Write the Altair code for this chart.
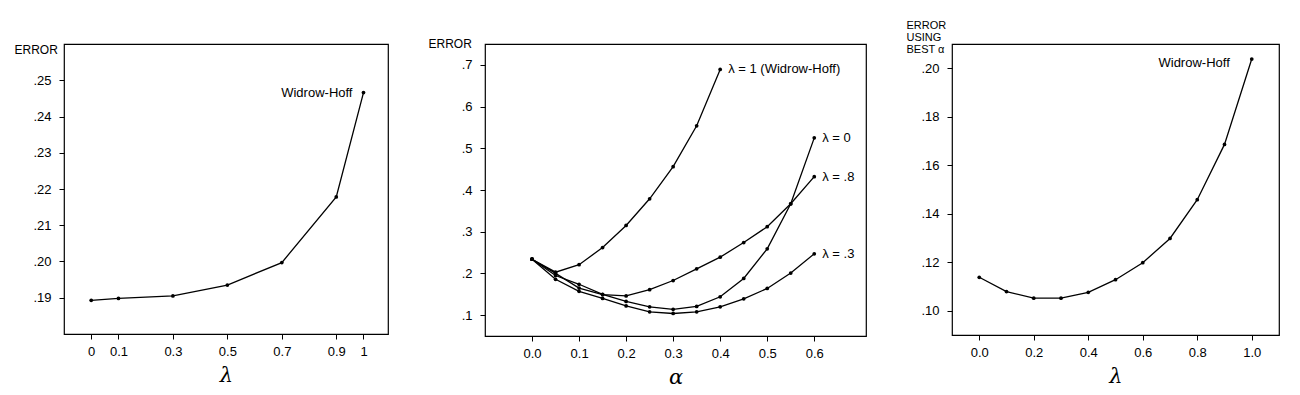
import altair as alt
import pandas as pd

# ---------------- Panel 1: error vs lambda ----------------
lam1 = [0.0, 0.1, 0.3, 0.5, 0.7, 0.9, 1.0]
err1 = [0.1893, 0.1898, 0.1905, 0.1935, 0.1997, 0.2178, 0.2466]
x1_ticks = [0.0, 0.1, 0.3, 0.5, 0.7, 0.9, 1.0]
y1_ticks = [0.19, 0.20, 0.21, 0.22, 0.23, 0.24, 0.25]

# ---------------- Panel 2: error vs alpha for several lambda ----------------
alpha_all = [0.0, 0.05, 0.10, 0.15, 0.20, 0.25, 0.30, 0.35, 0.40, 0.45, 0.50, 0.55, 0.60]
alpha_wh = [0.0, 0.05, 0.10, 0.15, 0.20, 0.25, 0.30, 0.35, 0.40]
err_lam0 = [0.234, 0.195, 0.174, 0.150, 0.133, 0.120, 0.114, 0.121, 0.144, 0.188, 0.259, 0.367, 0.525]
err_lam3 = [0.234, 0.186, 0.157, 0.140, 0.122, 0.108, 0.104, 0.108, 0.120, 0.139, 0.164, 0.201, 0.247]
err_lam8 = [0.234, 0.200, 0.165, 0.149, 0.146, 0.161, 0.183, 0.211, 0.239, 0.274, 0.312, 0.367, 0.432]
err_lam1 = [0.234, 0.203, 0.221, 0.262, 0.315, 0.379, 0.456, 0.554, 0.689]
series_labels = ["λ = 0", "λ = .3", "λ = .8", "λ = 1 (Widrow-Hoff)"]
x2_ticks = [0.0, 0.1, 0.2, 0.3, 0.4, 0.5, 0.6]
y2_ticks = [0.1, 0.2, 0.3, 0.4, 0.5, 0.6, 0.7]

# ---------------- Panel 3: error using best alpha vs lambda ----------------
lam3 = [0.0, 0.1, 0.2, 0.3, 0.4, 0.5, 0.6, 0.7, 0.8, 0.9, 1.0]
err3 = [0.1138, 0.1079, 0.1052, 0.1052, 0.1076, 0.1128, 0.1198, 0.1298, 0.1458, 0.1686, 0.2038]
x3_ticks = [0.0, 0.2, 0.4, 0.6, 0.8, 1.0]
y3_ticks = [0.10, 0.12, 0.14, 0.16, 0.18, 0.20]

SANS = "Liberation Sans"
SERIF = "DejaVu Serif"
LW = 1.3
PT = 14


def x_axis(values, title, label_expr=None, fmt=None):
    kw = dict(values=values, title=title, grid=False, domain=False,
              ticks=True, tickSize=5, tickColor="black", tickWidth=1,
              labelFont=SANS, labelFontSize=13, labelColor="black", labelPadding=6,
              labelFlush=False,
              titleFont=SERIF, titleFontSize=21, titleFontStyle="italic",
              titleFontWeight="normal", titleColor="black", titlePadding=6)
    if label_expr:
        kw["labelExpr"] = label_expr
    if fmt:
        kw["format"] = fmt
    return alt.Axis(**kw)


def y_axis(values, fmt, title, tx, ty, baseline, fsize=12):
    return alt.Axis(values=values, grid=False, domain=False,
                    labelExpr=f"substring(format(datum.value, '{fmt}'), 1)",
                    ticks=True, tickSize=5, tickColor="black", tickWidth=1,
                    labelFont=SANS, labelFontSize=13, labelColor="black", labelPadding=8,
                    labelFlush=False,
                    title=title, titleAngle=0, titleAlign="left", titleBaseline=baseline,
                    titleX=tx, titleY=ty, titleFont=SANS, titleFontSize=fsize,
                    titleFontWeight="normal", titleColor="black", titleLineHeight=12)


# Panel 1
df1 = pd.DataFrame({"lam": lam1, "err": err1})
x1 = alt.X("lam:Q", scale=alt.Scale(domain=[-0.1, 1.09], nice=False, zero=False),
           axis=x_axis(x1_ticks, "λ", label_expr="toString(datum.value)"))
y1 = alt.Y("err:Q", scale=alt.Scale(domain=[0.18, 0.26], nice=False, zero=False),
           axis=y_axis(y1_ticks, ".2f", "ERROR", -50, 0, "top"))
base1 = alt.Chart(df1).encode(x=x1, y=y1)
lab1 = pd.DataFrame({"lam": [lam1[-1]], "err": [err1[-1]], "txt": ["Widrow-Hoff"]})
p1 = alt.layer(
    base1.mark_line(color="black", strokeWidth=LW),
    base1.mark_circle(color="black", size=PT, opacity=1),
    alt.Chart(lab1).mark_text(align="right", baseline="middle", dx=-11, dy=0,
                              font=SANS, fontSize=13, color="black")
    .encode(x="lam:Q", y="err:Q", text="txt:N"),
).properties(width=324, height=290)

# Panel 2
rows = []
for lab, alphas, errs in [(series_labels[0], alpha_all, err_lam0),
                          (series_labels[1], alpha_all, err_lam3),
                          (series_labels[2], alpha_all, err_lam8),
                          (series_labels[3], alpha_wh, err_lam1)]:
    for a, e in zip(alphas, errs):
        rows.append({"alpha": a, "err": e, "series": lab})
df2 = pd.DataFrame(rows)
last2 = df2.groupby("series", as_index=False).last()
x2 = alt.X("alpha:Q", scale=alt.Scale(domain=[-0.1, 0.71], nice=False, zero=False),
           axis=x_axis(x2_ticks, "α", fmt=".1f"))
y2 = alt.Y("err:Q", scale=alt.Scale(domain=[0.05, 0.75], nice=False, zero=False),
           axis=y_axis(y2_ticks, ".1f", "ERROR", -57, -1, "middle"))
base2 = alt.Chart(df2).encode(x=x2, y=y2, detail="series:N")
p2 = alt.layer(
    base2.mark_line(color="black", strokeWidth=LW),
    base2.mark_circle(color="black", size=PT, opacity=1),
    alt.Chart(last2).mark_text(align="left", baseline="middle", dx=8,
                               font=SANS, fontSize=13, color="black")
    .encode(x="alpha:Q", y="err:Q", text="series:N"),
).properties(width=381, height=292)

# Panel 3
df3 = pd.DataFrame({"lam": lam3, "err": err3})
x3 = alt.X("lam:Q", scale=alt.Scale(domain=[-0.1, 1.1], nice=False, zero=False),
           axis=x_axis(x3_ticks, "λ", fmt=".1f"))
y3 = alt.Y("err:Q", scale=alt.Scale(domain=[0.09, 0.21], nice=False, zero=False),
           axis=y_axis(y3_ticks, ".2f", ["ERROR", "USING", "BEST α"], -46, -25, "top", fsize=11))
base3 = alt.Chart(df3).encode(x=x3, y=y3)
lab3 = pd.DataFrame({"lam": [lam3[-1]], "err": [err3[-1]], "txt": ["Widrow-Hoff"]})
p3 = alt.layer(
    base3.mark_line(color="black", strokeWidth=LW),
    base3.mark_circle(color="black", size=PT, opacity=1),
    alt.Chart(lab3).mark_text(align="right", baseline="middle", dx=-22, dy=4,
                              font=SANS, fontSize=13, color="black")
    .encode(x="lam:Q", y="err:Q", text="txt:N"),
).properties(width=327, height=291)

chart = alt.hconcat(p1, p2, p3, spacing=38).properties(
    padding={"left": 5, "top": 10, "right": 5, "bottom": 5}
).configure(background="white").configure_view(stroke="black", strokeWidth=1.2, fill="white")

chart.save("out.html", embed_options={"renderer": "svg", "actions": False})
